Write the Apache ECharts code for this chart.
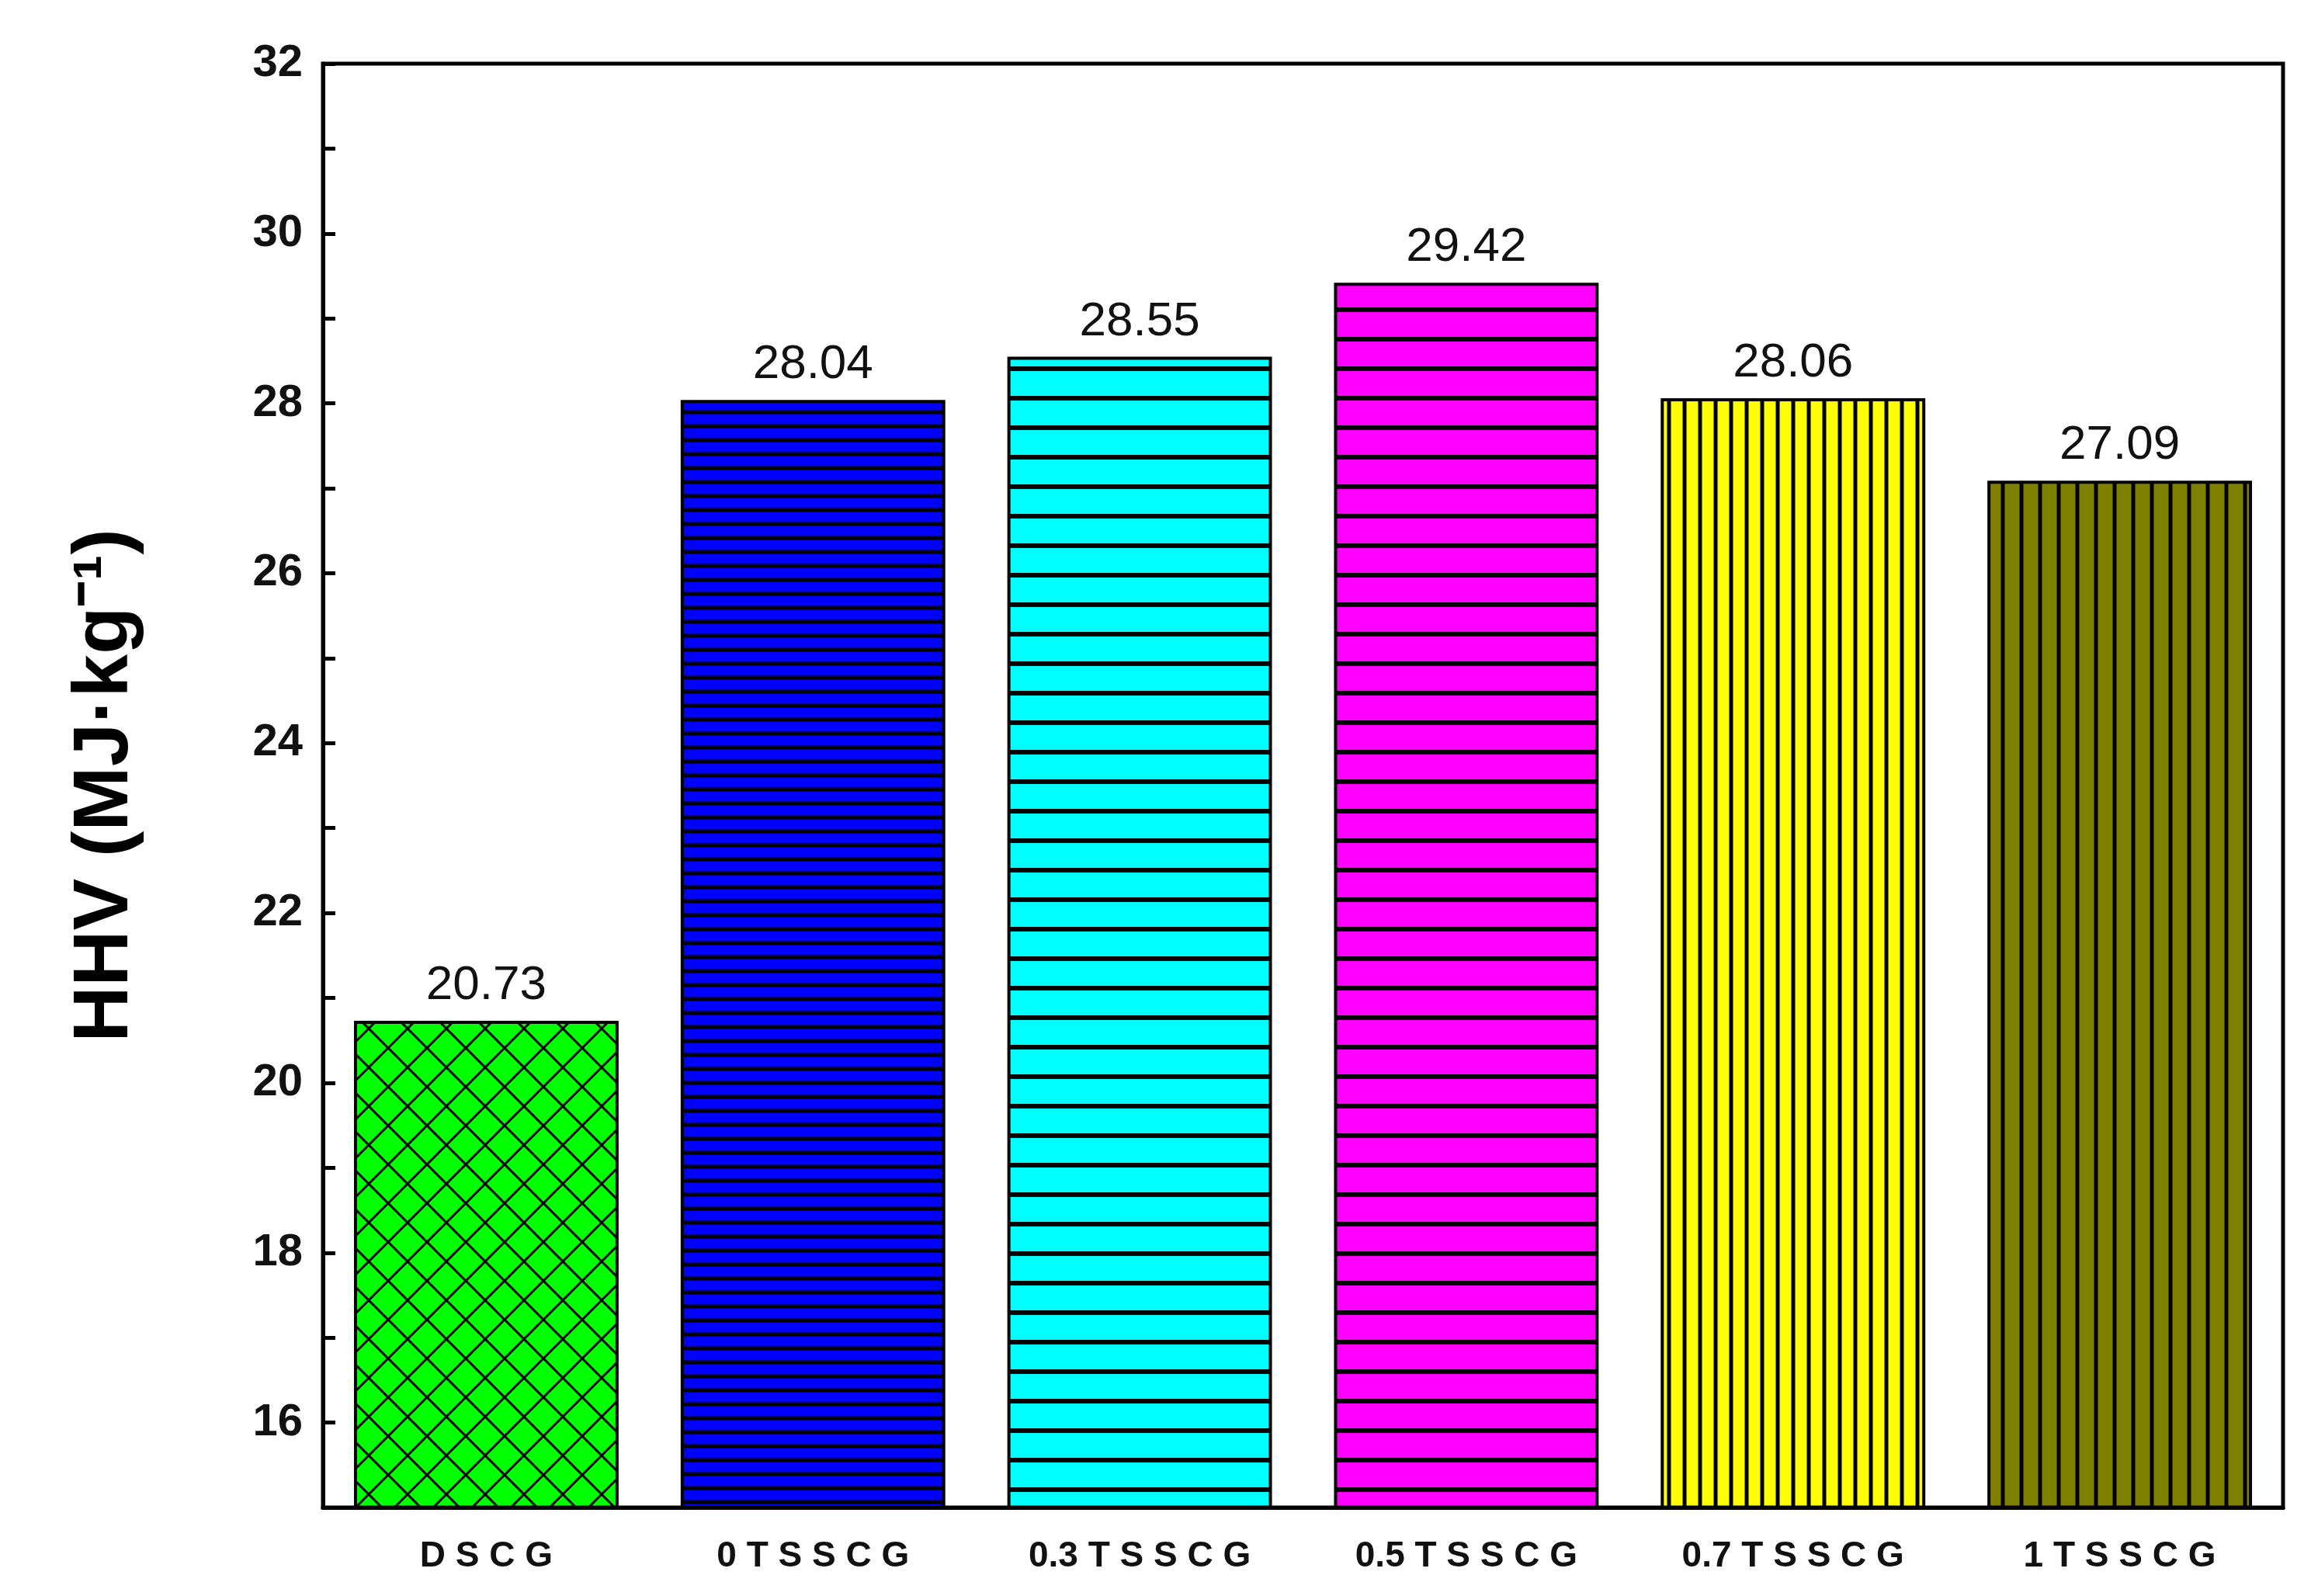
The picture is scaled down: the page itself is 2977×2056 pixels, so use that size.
<!DOCTYPE html>
<html><head><meta charset="utf-8">
<script src="https://cdn.jsdelivr.net/npm/echarts@6/dist/echarts.min.js"></script>
<style>html,body{margin:0;padding:0;background:#fff}#c{width:2977px;height:2056px}</style>
</head><body><div id="c"></div>
<script>
const categories = ['D S C G','0 T S S C G','0.3 T S S C G','0.5 T S S C G','0.7 T S S C G','1 T S S C G'];
const values = [20.73, 28.04, 28.55, 29.42, 28.06, 27.09];
const yTicks = [16,18,20,22,24,26,28,30,32];

function pat(bg, kind, step, lw){
  const c = document.createElement('canvas');
  if (kind==='x'){ c.width=step; c.height=step; } else if(kind==='h'){ c.width=8; c.height=step; } else { c.width=step; c.height=8; }
  const g = c.getContext('2d');
  g.fillStyle=bg; g.fillRect(0,0,c.width,c.height);
  g.strokeStyle='#000'; g.lineWidth=lw;
  g.beginPath();
  if(kind==='h'){ g.moveTo(0,step/2); g.lineTo(8,step/2); }
  else if(kind==='v'){ g.moveTo(step/2,0); g.lineTo(step/2,8); }
  else { g.moveTo(0,0); g.lineTo(step,step); g.moveTo(step,0); g.lineTo(0,step);
         g.moveTo(-1,step-1);g.lineTo(1,step+1); }
  g.stroke();
  return {image:c, repeat:'repeat'};
}
const fills = [
  pat('#00ff00','x',50,3),
  pat('#0000ff','h',18,5),
  pat('#00ffff','h',38,6),
  pat('#ff00ff','h',38,6),
  pat('#ffff00','v',20,5),
  pat('#808000','v',24,5)
];
const font = 'Liberation Sans, Arial, sans-serif';
const chart = echarts.init(document.getElementById('c'));
chart.setOption({
  animation:false,
  grid:{left:416, right:36, top:82, bottom:114},
  xAxis:{type:'category', data:categories,
    axisLine:{lineStyle:{color:'#000',width:5}}, axisTick:{show:false},
    axisLabel:{fontFamily:font, fontWeight:'bold', fontSize:46, color:'#111', margin:40}},
  yAxis:{type:'value', min:15, max:32, interval:1,
    name:'HHV (MJ·kg⁻¹)', nameLocation:'middle', nameGap:230,
    nameTextStyle:{fontFamily:font, fontWeight:'bold', fontSize:100, color:'#000'},
    axisLine:{show:true, lineStyle:{color:'#000',width:5}},
    axisTick:{show:true, inside:true, length:16, lineStyle:{width:5,color:'#000'}},
    splitLine:{show:false},
    axisLabel:{fontFamily:font, fontWeight:'bold', fontSize:58, color:'#111', margin:26,
      formatter:v=> yTicks.includes(v) ? String(v) : ''}},
  series:[{type:'bar', barWidth:'81%',
    data: values.map((v,i)=>({value:v, itemStyle:{color:fills[i], borderColor:'#000', borderWidth:4}})),
    label:{show:true, position:'top', distance:14, fontFamily:font, fontSize:62, color:'#111',
      formatter:p=>p.value.toFixed(2)}},
   {type:'line', data:[], markLine:{}}],
  graphic:[{type:'rect', shape:{x:416,y:82,width:2525,height:1860}, style:{fill:'none',stroke:'#000',lineWidth:5}, silent:true, z:100}]
});
</script></body></html>
